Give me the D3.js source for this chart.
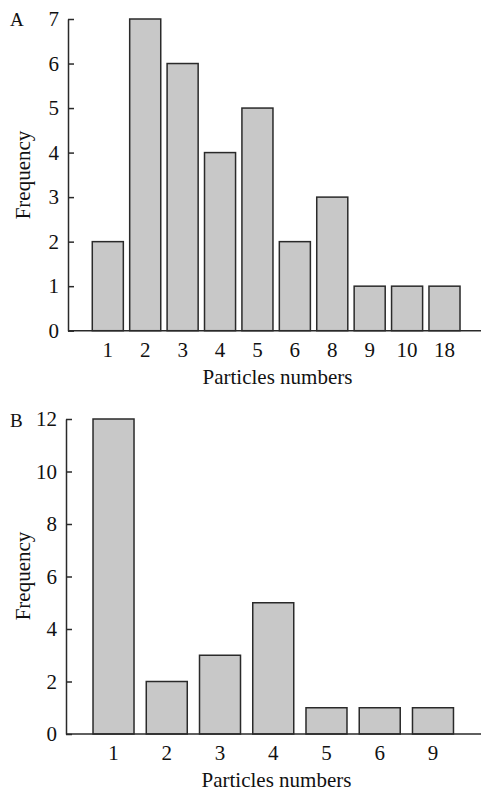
<!DOCTYPE html>
<html lang="en">
  <head>
    <meta charset="UTF-8" />
    <title>Particles numbers</title>
    <style>
      body { margin: 0; background: #fff; }
      svg text { font-family: "Liberation Serif", "Times New Roman", serif; fill: #111; }
      .bar { fill: #c8c8c8; stroke: #2a2a2a; stroke-width: 1.5; }
      .axis path, .axis line, .baseline { stroke: #2a2a2a; stroke-width: 1.5; }
    </style>
  </head>
  <body>
    <script src="https://cdn.jsdelivr.net/npm/d3@7"></script>
    <script>
      // panel A
      var catsA = ["1", "2", "3", "4", "5", "6", "8", "9", "10", "18"];
      var freqA = [2, 7, 6, 4, 5, 2, 3, 1, 1, 1];
      var ticksA = [0, 1, 2, 3, 4, 5, 6, 7];

      // panel B
      var catsB = ["1", "2", "3", "4", "5", "6", "9"];
      var freqB = [12, 2, 3, 5, 1, 1, 1];
      var ticksB = [0, 2, 4, 6, 8, 10, 12];

      var w = 481, h = 792;
      var fs = "21px";

      var svg = d3.select("body").append("svg")
        .attr("width", w)
        .attr("height", h);

      function drawPanel(opt) {
        var g = svg.append("g");

        var xScale = d3.scaleBand()
          .domain(opt.cats)
          .range(opt.xRange)
          .paddingInner(opt.pad)
          .paddingOuter(opt.pad / 2);

        var yScale = d3.scaleLinear()
          .domain([0, opt.yMax])
          .range(opt.yRange);

        g.selectAll("rect")
          .data(opt.vals)
          .enter()
          .append("rect")
          .attr("class", "bar")
          .attr("x", function(d, i) { return xScale(opt.cats[i]); })
          .attr("width", xScale.bandwidth())
          .attr("y", function(d) { return yScale(d); })
          .attr("height", function(d) { return yScale(0) - yScale(d); });

        var yAxis = d3.axisLeft(yScale)
          .tickValues(opt.ticks)
          .tickFormat(d3.format("d"))
          .tickSizeInner(-6)
          .tickSizeOuter(0)
          .tickPadding(9);

        g.append("g")
          .attr("class", "axis")
          .attr("transform", "translate(" + opt.axisX + ",0)")
          .call(yAxis)
          .selectAll("text")
          .style("font-size", fs);

        var xAxis = d3.axisBottom(xScale)
          .tickSize(0)
          .tickPadding(11);

        var xg = g.append("g")
          .attr("class", "axis")
          .attr("transform", "translate(0," + yScale(0) + ")")
          .call(xAxis);
        xg.select(".domain").remove();
        xg.selectAll("text").style("font-size", fs);

        g.append("line")
          .attr("class", "baseline")
          .attr("x1", opt.axisX)
          .attr("x2", w)
          .attr("y1", yScale(0))
          .attr("y2", yScale(0));

        g.append("text")
          .attr("x", (opt.axisX + w) / 2 + 3)
          .attr("y", opt.titleY)
          .attr("text-anchor", "middle")
          .style("font-size", fs)
          .text("Particles numbers");

        g.append("text")
          .attr("transform", "translate(30," + opt.freqY + ") rotate(-90)")
          .attr("text-anchor", "middle")
          .style("font-size", fs)
          .text("Frequency");

        g.append("text")
          .attr("x", 10)
          .attr("y", opt.letterY)
          .style("font-size", "19px")
          .text(opt.letter);
      }

      drawPanel({
        cats: catsA, vals: freqA, ticks: ticksA, yMax: 7,
        xRange: [89.1, 463.2], pad: 0.17,
        yRange: [330.7, 19], axisX: 68,
        titleY: 384, freqY: 175, letterY: 26, letter: "A"
      });

      drawPanel({
        cats: catsB, vals: freqB, ticks: ticksB, yMax: 12,
        xRange: [86.9, 459.6], pad: 0.23,
        yRange: [734, 419], axisX: 66,
        titleY: 787, freqY: 576, letterY: 427, letter: "B"
      });
    </script>
  </body>
</html>
